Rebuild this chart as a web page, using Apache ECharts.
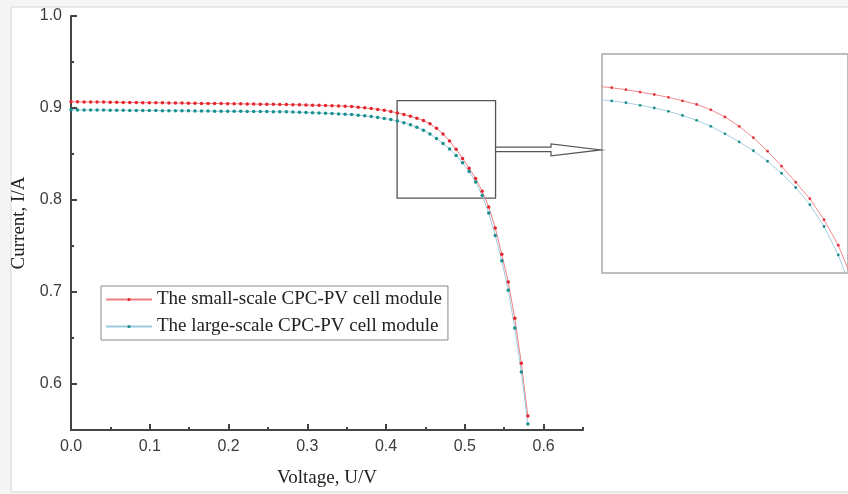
<!DOCTYPE html>
<html>
<head>
<meta charset="utf-8">
<script src="https://cdn.jsdelivr.net/npm/echarts/dist/echarts.min.js"></script>
<style>
  html, body { margin: 0; padding: 0; background: #f5f5f5; }
  #chart { width: 848px; height: 494px; }
</style>
</head>
<body>
<div id="chart"></div>
<script>
// voltage samples (V)
const volts = [
  0, 0.0083, 0.0166, 0.0249, 0.0331, 0.0414, 0.0497, 0.0580, 0.0663, 0.0746,
  0.0829, 0.0911, 0.0994, 0.1077, 0.1160, 0.1243, 0.1326, 0.1409, 0.1491, 0.1574,
  0.1657, 0.1740, 0.1823, 0.1906, 0.1989, 0.2071, 0.2154, 0.2237, 0.2320, 0.2403,
  0.2486, 0.2569, 0.2651, 0.2734, 0.2817, 0.2900, 0.2983, 0.3066, 0.3149, 0.3231,
  0.3314, 0.3397, 0.3480, 0.3563, 0.3646, 0.3729, 0.3811, 0.3894, 0.3977, 0.4060,
  0.4143, 0.4226, 0.4309, 0.4391, 0.4474, 0.4557, 0.4640, 0.4723, 0.4806, 0.4889,
  0.4971, 0.5054, 0.5137, 0.5220, 0.5303, 0.5386, 0.5469, 0.5551, 0.5634, 0.5717,
  0.5800
]
// small-scale module current (A)
const smallCur = [
  0.9068, 0.9067, 0.9066, 0.9066, 0.9065, 0.9064, 0.9063, 0.9062, 0.9061, 0.9060,
  0.9059, 0.9058, 0.9058, 0.9057, 0.9056, 0.9055, 0.9054, 0.9053, 0.9052, 0.9051,
  0.9050, 0.9050, 0.9049, 0.9048, 0.9047, 0.9046, 0.9045, 0.9044, 0.9043, 0.9042,
  0.9041, 0.9040, 0.9039, 0.9037, 0.9036, 0.9034, 0.9032, 0.9031, 0.9029, 0.9027,
  0.9025, 0.9023, 0.9020, 0.9015, 0.9009, 0.9002, 0.8994, 0.8985, 0.8975, 0.8962,
  0.8946, 0.8930, 0.8911, 0.8888, 0.8864, 0.8828, 0.8780, 0.8718, 0.8642, 0.8552,
  0.8452, 0.8345, 0.8235, 0.8095, 0.7925, 0.7695, 0.7410, 0.7110, 0.6715, 0.6225,
  0.5652
]
// large-scale module current (A)
const largeCur = [
  0.8980, 0.8979, 0.8979, 0.8978, 0.8977, 0.8977, 0.8976, 0.8976, 0.8975, 0.8974,
  0.8974, 0.8973, 0.8972, 0.8972, 0.8971, 0.8971, 0.8970, 0.8969, 0.8969, 0.8968,
  0.8967, 0.8967, 0.8966, 0.8966, 0.8965, 0.8964, 0.8964, 0.8963, 0.8962, 0.8962,
  0.8961, 0.8960, 0.8959, 0.8958, 0.8956, 0.8954, 0.8952, 0.8949, 0.8946, 0.8943,
  0.8940, 0.8936, 0.8933, 0.8928, 0.8922, 0.8915, 0.8907, 0.8898, 0.8887, 0.8875,
  0.8858, 0.8840, 0.8818, 0.8790, 0.8758, 0.8718, 0.8668, 0.8614, 0.8555, 0.8485,
  0.8405, 0.8310, 0.8195, 0.8050, 0.7860, 0.7615, 0.7340, 0.7020, 0.6610, 0.6130,
  0.5565
]
const seriesNames = ['The small-scale CPC-PV cell module', 'The large-scale CPC-PV cell module']

// axis ticks
const xTicks = [0, 0.1, 0.2, 0.3, 0.4, 0.5, 0.6]
const xMinor = [0.05, 0.15, 0.25, 0.35, 0.45, 0.55, 0.65]
const yTicks = [0.6, 0.7, 0.8, 0.9, 1.0]
const yMinor = [0.65, 0.75, 0.85, 0.95]

// zoom box on the main plot and the range shown in the enlarged panel
const boxV = [0.414, 0.539]
const boxI = [0.802, 0.908]
const insetV = [0.392, 0.536]
const insetI = [0.774, 0.920]

const sans = 'Liberation Sans, Arial, sans-serif'
const serif = 'Liberation Serif, Times New Roman, serif'
const axisColor = '#444'

const smallData = volts.map((v, i) => [v, smallCur[i]])
const largeData = volts.map((v, i) => [v, largeCur[i]])

const chart = echarts.init(document.getElementById('chart'))

const mainLine = (name, data, lineColor, dotColor, xi, yi, size) => ({
  name: name,
  type: 'line',
  xAxisIndex: xi,
  yAxisIndex: yi,
  data: data,
  symbol: 'circle',
  symbolSize: size,
  showSymbol: true,
  animation: false,
  lineStyle: { color: lineColor, width: 1 },
  itemStyle: { color: dotColor },
})

const option = {
  backgroundColor: '#f5f5f5',
  animation: false,
  grid: [
    { left: 71, top: 16, width: 512, height: 414 },
    { left: 602, top: 54, width: 246, height: 219, show: true, backgroundColor: '#fff', borderColor: '#a8a8a8', borderWidth: 1.5 },
  ],
  legend: {
    data: seriesNames,
    orient: 'vertical',
    left: 101,
    top: 286,
    itemWidth: 46,
    itemHeight: 4,
    itemGap: 8,
    padding: [4, 6, 4, 4],
    borderColor: '#8a8a8a',
    borderWidth: 1,
    backgroundColor: '#fff',
    textStyle: { fontFamily: serif, fontSize: 19, color: '#222' },
  },
  xAxis: [
    {
      gridIndex: 0, type: 'value', min: 0, max: 0.65, position: 'bottom',
      name: 'Voltage, U/V', nameLocation: 'middle', nameGap: 39,
      nameTextStyle: { fontFamily: serif, fontSize: 19, color: '#222' },
      axisLine: { lineStyle: { color: axisColor, width: 2 } },
      axisTick: { inside: true, length: 6, customValues: xTicks, lineStyle: { width: 2 } },
      axisLabel: { customValues: xTicks, margin: 9, fontFamily: sans, fontSize: 16, color: '#3c3c3c', formatter: (v) => v.toFixed(1) },
      splitLine: { show: false },
    },
    {
      gridIndex: 0, type: 'value', min: 0, max: 0.65, position: 'bottom',
      axisLine: { show: false },
      axisTick: { inside: true, length: 3, customValues: xMinor, lineStyle: { color: axisColor, width: 2 } },
      axisLabel: { show: false },
      splitLine: { show: false },
    },
    { gridIndex: 1, type: 'value', min: insetV[0], max: insetV[1], show: false },
  ],
  yAxis: [
    {
      gridIndex: 0, type: 'value', min: 0.55, max: 1.0, position: 'left',
      name: 'Current, I/A', nameLocation: 'middle', nameGap: 42,
      nameTextStyle: { fontFamily: serif, fontSize: 19, color: '#222' },
      axisLine: { show: true, lineStyle: { color: axisColor, width: 2 } },
      axisTick: { show: true, inside: true, length: 6, customValues: yTicks, lineStyle: { width: 2 } },
      axisLabel: { customValues: yTicks, margin: 9, fontFamily: sans, fontSize: 16, color: '#3c3c3c', formatter: (v) => v.toFixed(1) },
      splitLine: { show: false },
    },
    {
      gridIndex: 0, type: 'value', min: 0.55, max: 1.0, position: 'left',
      axisLine: { show: false },
      axisTick: { show: true, inside: true, length: 3, customValues: yMinor, lineStyle: { color: axisColor, width: 2 } },
      axisLabel: { show: false },
      splitLine: { show: false },
    },
    { gridIndex: 1, type: 'value', min: insetI[0], max: insetI[1], show: false },
  ],
  series: [
    Object.assign(mainLine(seriesNames[0], smallData, '#f07f83', '#e3262d', 0, 0, 3.5), {
      markArea: {
        silent: true,
        itemStyle: { color: 'rgba(0,0,0,0)', borderColor: '#555', borderWidth: 1.3 },
        data: [[{ coord: [boxV[0], boxI[1]] }, { coord: [boxV[1], boxI[0]] }]],
      },
    }),
    mainLine(seriesNames[1], largeData, '#9ccbe0', '#17908e', 0, 0, 3.5),
    mainLine(seriesNames[0], smallData, '#f28a8e', '#e3363c', 2, 2, 2.8),
    mainLine(seriesNames[1], largeData, '#a5d0e2', '#1f8f8c', 2, 2, 2.8),
  ],
}

chart.setOption(option)

// outer frame and the arrow pointing from the box to the enlarged panel
const from = chart.convertToPixel({ xAxisIndex: 0, yAxisIndex: 0 }, [boxV[1], (boxI[0] + boxI[1]) / 2])
const to = chart.convertToPixel({ xAxisIndex: 2, yAxisIndex: 2 }, [insetV[0], insetI[1]])
const x0 = from[0], y0 = from[1], x1 = to[0] - 1
const headX = x1 - 50
chart.setOption({
  graphic: [
    {
      type: 'rect', z: -10, silent: true,
      shape: { x: 11, y: 7, width: 860, height: 485 },
      style: { fill: '#fff', stroke: '#d6d6d6', lineWidth: 1 },
    },
    {
      type: 'polygon', z: 50, silent: true,
      shape: {
        points: [
          [x0, y0 - 2.2], [headX, y0 - 2.2], [headX, y0 - 5.5], [x1, y0 + 0.5],
          [headX, y0 + 6.5], [headX, y0 + 2.2], [x0, y0 + 2.2],
        ],
      },
      style: { fill: '#fff', stroke: '#555', lineWidth: 1.2 },
    },
  ],
})
</script>
</body>
</html>
